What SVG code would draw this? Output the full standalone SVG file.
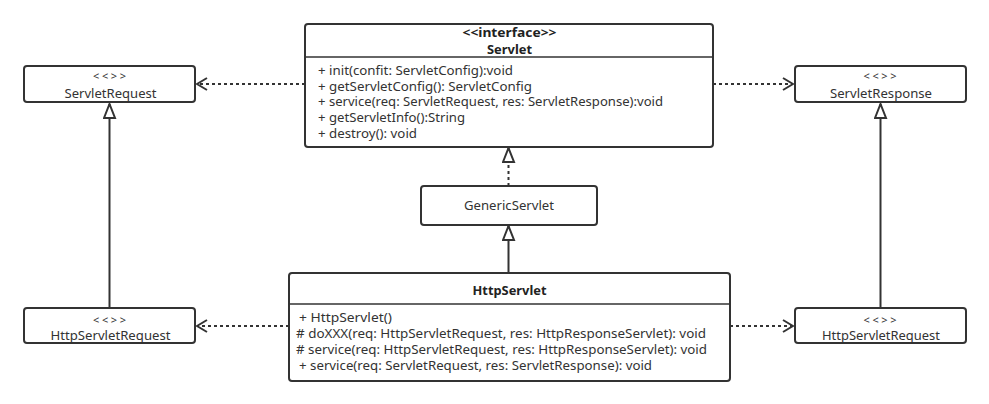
<svg xmlns="http://www.w3.org/2000/svg" width="989" height="404" viewBox="0 0 989 404">
<defs>
<style>
.box{fill:#fff;stroke:#333;stroke-width:2}
.div{stroke:#333;stroke-width:1.5}
.t{font-family:"Noto Sans","Open Sans","DejaVu Sans",sans-serif;font-size:12px;fill:#333}
.c{text-anchor:middle}
.b{font-weight:bold;fill:#222}
.st{font-size:11px;letter-spacing:2px}
.ln{stroke:#333;stroke-width:2;fill:none}
.dash{stroke-dasharray:3 3}
</style>
<marker id="open" viewBox="0 0 12 14" refX="11" refY="7" markerWidth="12" markerHeight="14" orient="auto" markerUnits="userSpaceOnUse">
<path d="M1,1 L11,7 L1,13" fill="none" stroke="#333" stroke-width="2"/>
</marker>
<marker id="tri" viewBox="0 0 16 14" refX="15" refY="7" markerWidth="16" markerHeight="14" orient="auto" markerUnits="userSpaceOnUse">
<path d="M1,1.5 L15,7 L1,12.5 Z" fill="#fff" stroke="#333" stroke-width="2"/>
</marker>
</defs>
<rect width="989" height="404" fill="#fff"/>
<g id="connectors">
<line class="ln dash" x1="305" y1="84" x2="197" y2="84" marker-end="url(#open)"/>
<line class="ln dash" x1="713" y1="84" x2="793" y2="84" marker-end="url(#open)"/>
<line class="ln dash" x1="289" y1="326" x2="197" y2="326" marker-end="url(#open)"/>
<line class="ln dash" x1="730" y1="326" x2="793" y2="326" marker-end="url(#open)"/>
<line class="ln" x1="109.5" y1="308" x2="109.5" y2="104" marker-end="url(#tri)"/>
<line class="ln" x1="880.5" y1="308" x2="880.5" y2="104" marker-end="url(#tri)"/>
<line class="ln dash" x1="508.5" y1="186" x2="508.5" y2="148" marker-end="url(#tri)"/>
<line class="ln" x1="508.5" y1="273" x2="508.5" y2="226" marker-end="url(#tri)"/>
</g>
<g id="servlet">
<rect class="box" x="305" y="24" width="408" height="123" rx="3"/>
<line class="div" x1="305" y1="57" x2="713" y2="57"/>
<text class="t c b" x="509.5" y="37" textLength="94" lengthAdjust="spacingAndGlyphs">&lt;&lt;interface&gt;&gt;</text>
<text class="t c b" x="509.5" y="53.5" textLength="45" lengthAdjust="spacingAndGlyphs">Servlet</text>
<text class="t" x="318" y="74.5" textLength="195" lengthAdjust="spacingAndGlyphs">+ init(confit: ServletConfig):void</text>
<text class="t" x="318" y="90.5" textLength="214" lengthAdjust="spacingAndGlyphs">+ getServletConfig(): ServletConfig</text>
<text class="t" x="318" y="106" textLength="345" lengthAdjust="spacingAndGlyphs">+ service(req: ServletRequest, res: ServletResponse):void</text>
<text class="t" x="318" y="122" textLength="147" lengthAdjust="spacingAndGlyphs">+ getServletInfo():String</text>
<text class="t" x="318" y="138" textLength="99" lengthAdjust="spacingAndGlyphs">+ destroy(): void</text>
</g>
<g id="servletRequest">
<rect class="box" x="24" y="66" width="171" height="36" rx="3"/>
<text class="t c st" x="110.5" y="80" textLength="35">&lt;&lt;&gt;&gt;</text>
<text class="t c" x="110.5" y="97.5" textLength="92" lengthAdjust="spacingAndGlyphs">ServletRequest</text>
</g>
<g id="servletResponse">
<rect class="box" x="795" y="66" width="171" height="36" rx="3"/>
<text class="t c st" x="881" y="80" textLength="35">&lt;&lt;&gt;&gt;</text>
<text class="t c" x="881" y="97.5" textLength="102" lengthAdjust="spacingAndGlyphs">ServletResponse</text>
</g>
<g id="genericServlet">
<rect class="box" x="421" y="186" width="176" height="39" rx="3"/>
<text class="t c" x="509" y="209.5" textLength="90" lengthAdjust="spacingAndGlyphs">GenericServlet</text>
</g>
<g id="httpServlet">
<rect class="box" x="289" y="273" width="441" height="108" rx="3"/>
<line class="div" x1="289" y1="304" x2="730" y2="304"/>
<text class="t c b" x="509.5" y="294.5" textLength="74" lengthAdjust="spacingAndGlyphs">HttpServlet</text>
<text class="t" x="299" y="322" textLength="93" lengthAdjust="spacingAndGlyphs">+ HttpServlet()</text>
<text class="t" x="296" y="338" textLength="410" lengthAdjust="spacingAndGlyphs"># doXXX(req: HttpServletRequest, res: HttpResponseServlet): void</text>
<text class="t" x="296" y="354" textLength="411" lengthAdjust="spacingAndGlyphs"># service(req: HttpServletRequest, res: HttpResponseServlet): void</text>
<text class="t" x="299" y="370" textLength="353" lengthAdjust="spacingAndGlyphs">+ service(req: ServletRequest, res: ServletResponse): void</text>
</g>
<g id="httpServletRequestLeft">
<rect class="box" x="24" y="308" width="171" height="35" rx="3"/>
<text class="t c st" x="110.5" y="324" textLength="35">&lt;&lt;&gt;&gt;</text>
<text class="t c" x="110.5" y="339.5" textLength="120" lengthAdjust="spacingAndGlyphs">HttpServletRequest</text>
</g>
<g id="httpServletRequestRight">
<rect class="box" x="795" y="308" width="171" height="35" rx="3"/>
<text class="t c st" x="881" y="324" textLength="35">&lt;&lt;&gt;&gt;</text>
<text class="t c" x="881" y="339.5" textLength="118" lengthAdjust="spacingAndGlyphs">HttpServletRequest</text>
</g>
</svg>
